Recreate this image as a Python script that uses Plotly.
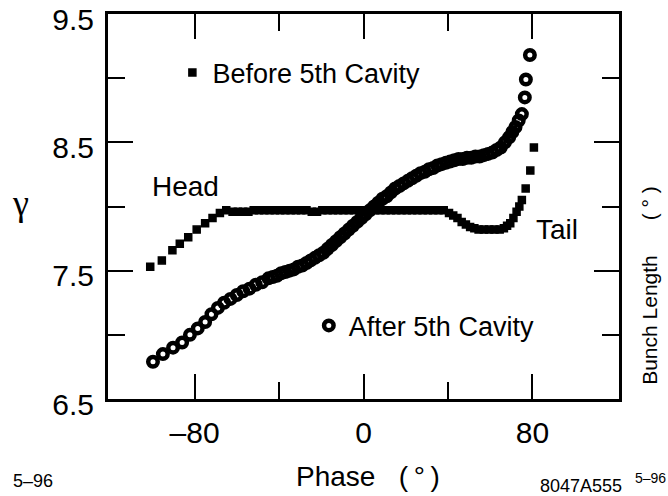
import plotly.graph_objects as go

# Beam energy (gamma) versus RF phase of each slice, before and after the 5th cavity
before_phase = [-101, -95.5, -90.5, -87, -83, -79, -75, -71.5, -68, -65,
                -62, -59.5, -57, -54.5, -52, -49.5, -47, -44.5, -42, -39.5,
                -37, -34.5, -32, -29.5, -27, -24.5, -22, -19.5, -17, -14.5,
                -12, -9.5, -7, -4.5, -2, 0.5, 3, 5.5, 8, 10.5,
                13, 15.5, 18, 20.5, 23, 25.5, 28, 30.5, 33, 35.5,
                38, 40.5, 42.5, 44.5, 46.5, 48.5, 50.5, 52.5, 54.5, 57,
                59.5, 62, 64.5, 66.5, 68, 69.5, 71, 72.5, 73.8, 75,
                76.8, 79, 80.7]
before_gamma = [7.53, 7.58, 7.66, 7.71, 7.76, 7.82, 7.87, 7.91, 7.95, 7.97,
                7.96, 7.96, 7.96, 7.96, 7.97, 7.97, 7.97, 7.97, 7.97, 7.97,
                7.97, 7.97, 7.97, 7.97, 7.97, 7.96, 7.96, 7.97, 7.97, 7.97,
                7.97, 7.97, 7.97, 7.97, 7.97, 7.97, 7.97, 7.97, 7.97, 7.97,
                7.97, 7.97, 7.97, 7.97, 7.97, 7.97, 7.97, 7.97, 7.97, 7.97,
                7.97, 7.95, 7.93, 7.91, 7.88, 7.86, 7.84, 7.83, 7.82, 7.82,
                7.82, 7.82, 7.82, 7.83, 7.85, 7.87, 7.91, 7.96, 8.00, 8.05,
                8.14, 8.28, 8.46]

after_phase = [-99.7, -95, -90.2, -85.9, -82.2, -78.5, -75, -72, -69, -66,
               -63, -60, -57, -54, -51, -48, -45, -43, -41, -39,
               -37, -35, -33, -31, -29, -27, -25, -23, -21, -19,
               -17, -15, -13, -11, -9, -7, -5, -3, -1, 1,
               3, 5, 7, 9, 11, 13, 15, 17, 19, 21,
               23, 25, 27, 29, 31, 33, 35, 37, 39, 41,
               43, 45, 47, 49, 51, 53, 55, 57, 59, 61,
               63, 65, 67, 69, 70.5, 72, 73.5, 75, 76.4, 76.9,
               78.8]
after_gamma = [6.79, 6.85, 6.90, 6.94, 7.00, 7.05, 7.10, 7.16, 7.21, 7.25,
               7.28, 7.31, 7.34, 7.36, 7.39, 7.41, 7.44, 7.45, 7.46, 7.48,
               7.49, 7.50, 7.51, 7.53, 7.54, 7.56, 7.58, 7.60, 7.62, 7.64,
               7.67, 7.70, 7.73, 7.76, 7.79, 7.82, 7.85, 7.88, 7.91, 7.94,
               7.97, 8.00, 8.03, 8.06, 8.08, 8.11, 8.14, 8.16, 8.18, 8.20,
               8.22, 8.24, 8.26, 8.27, 8.29, 8.30, 8.32, 8.33, 8.34, 8.35,
               8.36, 8.37, 8.37, 8.38, 8.38, 8.39, 8.39, 8.40, 8.41, 8.42,
               8.44, 8.46, 8.50, 8.54, 8.58, 8.62, 8.67, 8.72, 8.85, 8.99,
               9.18]

x_major = [-80, 0, 80]
x_major_text = ["\u201380", "0", "80"]
x_minor = [-40, 40]
y_major = [6.5, 7.5, 8.5, 9.5]
y_minor = [7.0, 8.0, 9.0]

FONT = "Liberation Sans, Arial, Helvetica, sans-serif"

fig = go.Figure()
fig.add_trace(go.Scatter(
    x=before_phase, y=before_gamma, mode="markers", name="Before 5th Cavity",
    marker=dict(symbol="square", size=7, color="black",
                line=dict(width=1.5, color="black")),
    legend="legend",
))
fig.add_trace(go.Scatter(
    x=after_phase, y=after_gamma, mode="markers", name="After 5th Cavity",
    marker=dict(symbol="circle-open", size=9.5, color="black",
                line=dict(width=4.5, color="black")),
    legend="legend2",
))

axis_common = dict(
    showgrid=False, zeroline=False, showline=True, linewidth=3,
    linecolor="black", mirror="ticks", ticks="inside", ticklen=25,
    tickwidth=2, tickcolor="black", automargin=False,
    tickfont=dict(family=FONT, size=30, color="black"),
)

fig.update_layout(
    width=668, height=496,
    margin=dict(l=108, r=49, t=14, b=97, autoexpand=False),
    paper_bgcolor="white", plot_bgcolor="white",
    font=dict(family=FONT, color="black"),
    xaxis=dict(range=[-121, 121], tickmode="array", tickvals=x_major,
               ticktext=x_major_text, ticklabelstandoff=5,
               minor=dict(tickmode="array", tickvals=x_minor, ticks="inside",
                          ticklen=17, tickwidth=2, tickcolor="black"),
               **axis_common),
    yaxis=dict(range=[6.5, 9.5], tickmode="array", tickvals=y_major,
               ticklabelstandoff=5, ticklabelshift=5,
               minor=dict(tickmode="array", tickvals=y_minor, ticks="inside",
                          ticklen=17, tickwidth=2, tickcolor="black"),
               **axis_common),
    legend=dict(x=0.126, y=0.8468, xanchor="left", yanchor="middle",
                bgcolor="rgba(0,0,0,0)", borderwidth=0,
                font=dict(family=FONT, size=27, color="black")),
    legend2=dict(x=0.393, y=0.19, xanchor="left", yanchor="middle",
                 bgcolor="rgba(0,0,0,0)", borderwidth=0,
                 font=dict(family=FONT, size=27, color="black")),
    showlegend=True,
)

def label(text, x, y, size, angle=0, family=FONT):
    fig.add_annotation(text=text, x=x, y=y, xref="paper", yref="paper",
                       xanchor="center", yanchor="middle", showarrow=False,
                       textangle=angle,
                       font=dict(family=family, size=size, color="black"))

label("Head", 0.1507, 0.552, 28)
label("Tail", 0.8777, 0.439, 28)
label("Phase   (\u2009\u00b0\u2009)", 0.508, -0.2, 28)
label("\u03b3", -0.172, 0.51, 36, family="Liberation Serif, DejaVu Serif, serif")
label("Bunch Length      ( \u00b0 )", 1.0607, 0.294, 21, angle=-90)
label("5\u201396", -0.1468, -0.214, 18)
label("8047A555", 0.9266, -0.2247, 18)
label("5\u201396", 1.0626, -0.205, 14)

fig.write_html("out.html")
